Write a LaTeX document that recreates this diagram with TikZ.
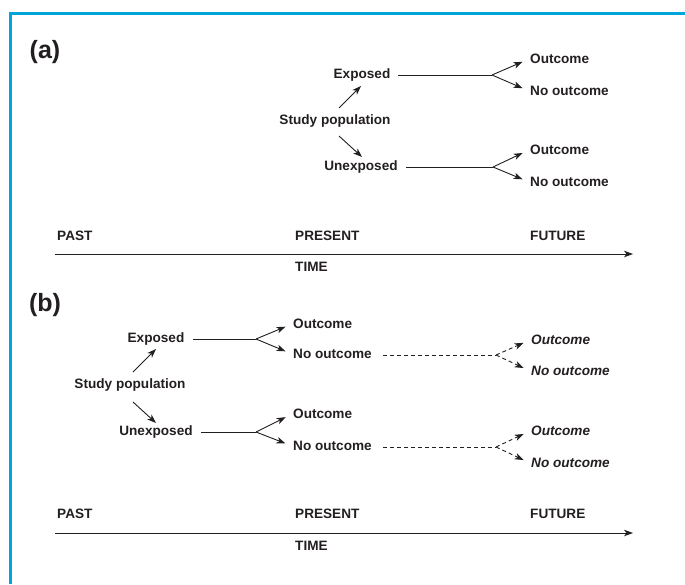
\documentclass[tikz,border=0pt]{standalone}
\usepackage{fontspec}
\setmainfont{Liberation Sans}
\usetikzlibrary{arrows.meta}
\definecolor{framecol}{RGB}{0,166,218}
\definecolor{ink}{RGB}{35,31,32}
\begin{document}
\begin{tikzpicture}[x=1pt,y=-1pt,
  lbl/.style={inner sep=1pt,font=\fontsize{13.6}{15}\selectfont\bfseries,text=ink},
  ilbl/.style={lbl,font=\fontsize{13.6}{15}\selectfont\bfseries\itshape},
  big/.style={inner sep=0pt,font=\fontsize{25}{27}\selectfont\bfseries,text=ink},
  conn/.style={draw=ink,line width=0.9pt},
  arr/.style={conn,-{Stealth[length=9pt,width=6.5pt,inset=2.5pt]}},
  tarr/.style={arr,shorten >=7pt},
  darr/.style={tarr,dash pattern=on 4pt off 3pt},
  dconn/.style={conn,dash pattern=on 4pt off 3pt},
  frame/.style={draw=framecol,line width=3pt}]
\useasboundingbox (0,0) rectangle (685,584);
\coordinate (fr0) at (10,584);
\coordinate (fr1) at (10,13);
\coordinate (fr2) at (685,13);
\draw[frame] (fr0) -- (fr1) -- (fr2);

% ---------------- (a)
\node[big] (la) at (45,52) {(a)};
\node[lbl] (aexp) at (362,75) {Exposed};
\node[lbl] (asp) at (335,121) {Study population};
\node[lbl] (aunexp) at (361,167) {Unexposed};
\node[lbl,anchor=west] (aeo) at (529,59) {Outcome};
\node[lbl,anchor=west] (aeno) at (529,91) {No outcome};
\node[lbl,anchor=west] (auo) at (529,150) {Outcome};
\node[lbl,anchor=west] (auno) at (529,182) {No outcome};
\coordinate (abe) at (492,75);
\coordinate (abu) at (493,167);
\coordinate (aes) at (398,75);
\coordinate (aus) at (406,167);
\coordinate (aspu) at (339,108);
\coordinate (aspd) at (339,136);
\coordinate (aexpb) at (361,86);
\coordinate (aunt) at (362,157);
\draw[arr] (aspu) -- (aexpb);
\draw[arr] (aspd) -- (aunt);
\draw[conn] (aes) -- (abe);
\draw[conn] (aus) -- (abu);
\draw[tarr] (abe) -- (aeo.west);
\draw[tarr] (abe) -- (aeno.west);
\draw[tarr] (abu) -- (auo.west);
\draw[tarr] (abu) -- (auno.west);

\node[lbl,anchor=west] (apast) at (56,236) {PAST};
\node[lbl,anchor=west] (apres) at (294,236) {PRESENT};
\node[lbl,anchor=west] (afut) at (529,236) {FUTURE};
\node[lbl,anchor=west] (atime) at (294,267) {TIME};
\coordinate (at0) at (55,254);
\coordinate (at1) at (633,254);
\draw[arr] (at0) -- (at1);

% ---------------- (b)
\node[big] (lb) at (45,305) {(b)};
\node[lbl] (bexp) at (156,339) {Exposed};
\node[lbl] (bsp) at (130,385) {Study population};
\node[lbl] (bunexp) at (156,432) {Unexposed};
\node[lbl,anchor=west] (beo) at (292,324) {Outcome};
\node[lbl,anchor=west] (beno) at (292,354) {No outcome};
\node[lbl,anchor=west] (buo) at (292,414) {Outcome};
\node[lbl,anchor=west] (buno) at (292,446) {No outcome};
\coordinate (bbe) at (256,339);
\coordinate (bbu) at (256,432);
\coordinate (bes) at (193,339);
\coordinate (bus) at (201,432);
\coordinate (bspu) at (133,372);
\coordinate (bspd) at (133,402);
\coordinate (bexpb) at (156,349);
\coordinate (bunt) at (156,423);
\draw[arr] (bspu) -- (bexpb);
\draw[arr] (bspd) -- (bunt);
\draw[conn] (bes) -- (bbe);
\draw[conn] (bus) -- (bbu);
\draw[tarr] (bbe) -- (beo.west);
\draw[tarr] (bbe) -- (beno.west);
\draw[tarr] (bbu) -- (buo.west);
\draw[tarr] (bbu) -- (buno.west);

\node[ilbl,anchor=west] (bfo1) at (530,340) {Outcome};
\node[ilbl,anchor=west] (bfno1) at (530,371) {No outcome};
\node[ilbl,anchor=west] (bfo2) at (530,431) {Outcome};
\node[ilbl,anchor=west] (bfno2) at (530,463) {No outcome};
\coordinate (bds1) at (383,355);
\coordinate (bds2) at (383,447);
\coordinate (bd1) at (496,355);
\coordinate (bd2) at (496,447);
\draw[dconn] (bds1) -- (bd1);
\draw[dconn] (bds2) -- (bd2);
\draw[darr] (bd1) -- (bfo1.west);
\draw[darr] (bd1) -- (bfno1.west);
\draw[darr] (bd2) -- (bfo2.west);
\draw[darr] (bd2) -- (bfno2.west);

\node[lbl,anchor=west] (bpast) at (56,514) {PAST};
\node[lbl,anchor=west] (bpres) at (294,514) {PRESENT};
\node[lbl,anchor=west] (bfut) at (529,514) {FUTURE};
\node[lbl,anchor=west] (btime) at (294,546) {TIME};
\coordinate (bt0) at (55,533);
\coordinate (bt1) at (633,533);
\draw[arr] (bt0) -- (bt1);
\end{tikzpicture}
\end{document}
